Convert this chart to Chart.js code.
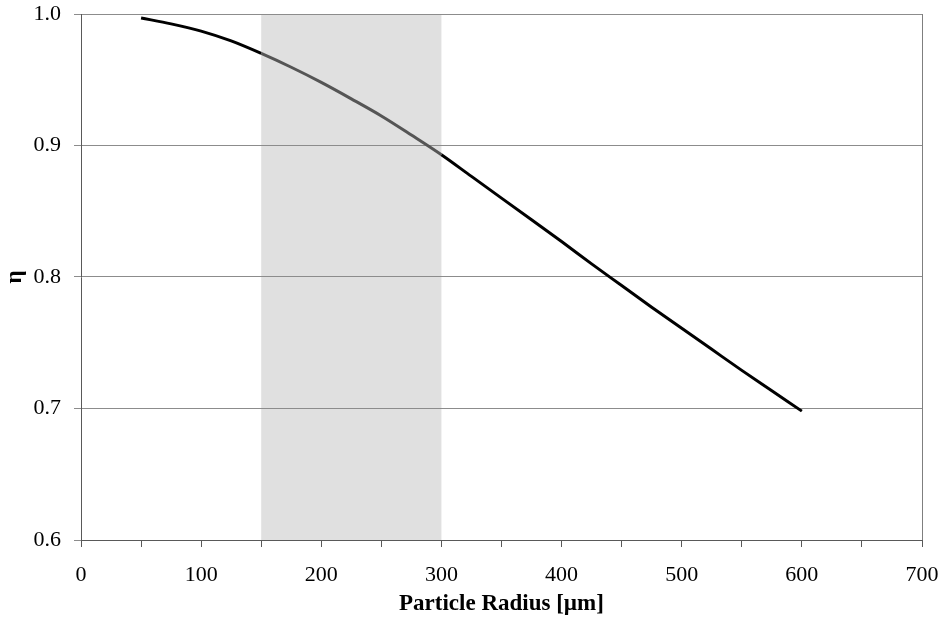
<!DOCTYPE html>
<html>
<head>
<meta charset="utf-8">
<script src="https://cdn.jsdelivr.net/npm/chart.js@4.4.1/dist/chart.umd.min.js"></script>
<style>
  html, body { margin: 0; padding: 0; background: #fff; }
  #wrap { width: 945px; height: 619px; }
</style>
</head>
<body>
<div id="wrap"><canvas id="c" width="945" height="619"></canvas></div>
<script>
// Collection efficiency versus particle radius
const radius = [50, 75, 100, 125, 150, 175, 200, 225, 250, 275, 300, 325, 350,
                375, 400, 425, 450, 475, 500, 525, 550, 575, 600];
const eta = [0.997, 0.9925, 0.987, 0.9795, 0.970, 0.9595, 0.948, 0.9355, 0.9225, 0.908,
             0.893, 0.8765, 0.860, 0.8435, 0.827, 0.810, 0.7935, 0.777, 0.761, 0.745,
             0.729, 0.7135, 0.698];
// Highlighted radius band
const bandRange = [150, 300];

const points = radius.map((r, i) => ({ x: r, y: eta[i] }));

const serif = "'Liberation Serif', 'Times New Roman', serif";

const bandPlugin = {
  id: 'band',
  beforeDraw(chart) {
    const { ctx, chartArea, scales } = chart;
    const x0 = scales.x.getPixelForValue(bandRange[0]);
    const x1 = scales.x.getPixelForValue(bandRange[1]);
    ctx.save();
    ctx.fillStyle = '#e0e0e0';
    ctx.fillRect(x0, chartArea.top, x1 - x0, chartArea.bottom - chartArea.top);
    ctx.restore();
  },
  afterDraw(chart) {
    const { ctx, chartArea } = chart;
    ctx.save();
    ctx.strokeStyle = '#7f7f7f';
    ctx.lineWidth = 1;
    ctx.beginPath();
    ctx.moveTo(Math.round(chartArea.right) + 0.5, chartArea.top);
    ctx.lineTo(Math.round(chartArea.right) + 0.5, chartArea.bottom);
    ctx.stroke();
    ctx.restore();
  }
};

new Chart(document.getElementById('c'), {
  type: 'line',
  data: {
    datasets: [{
      data: points,
      borderColor: '#000',
      borderWidth: 3,
      pointRadius: 0,
      cubicInterpolationMode: 'monotone',
      fill: false,
      segment: {
        borderColor: (c) => (c.p0.parsed.x >= bandRange[0] && c.p1.parsed.x <= bandRange[1]) ? '#555555' : '#000'
      }
    }]
  },
  options: {
    responsive: false,
    animation: false,
    devicePixelRatio: 1,
    layout: { padding: { left: 0, right: 23, top: 14, bottom: 0 } },
    plugins: { legend: { display: false }, tooltip: { enabled: false } },
    scales: {
      x: {
        type: 'linear',
        min: 0,
        max: 700,
        afterFit(s) { s.height = 79; s.paddingLeft = 0; s.paddingRight = 0; },
        afterBuildTicks(s) {
          const t = [];
          for (let v = 0; v <= 700; v += 50) t.push({ value: v });
          s.ticks = t;
        },
        ticks: {
          autoSkip: false,
          maxRotation: 0,
          padding: 15,
          color: '#000',
          font: { family: serif, size: 22 },
          callback: (v) => (v % 100 === 0 ? String(v) : '')
        },
        grid: {
          drawOnChartArea: false,
          drawTicks: true,
          tickLength: 7,
          color: '#595959'
        },
        border: { color: '#595959', width: 1 },
        title: {
          display: true,
          text: 'Particle Radius [µm]',
          color: '#000',
          font: { family: serif, size: 23, weight: 'bold' },
          padding: { top: 0, bottom: 1 }
        }
      },
      y: {
        min: 0.6,
        max: 1.0,
        afterFit(s) { s.width = 81; s.paddingTop = 0; s.paddingBottom = 0; },
        ticks: {
          stepSize: 0.1,
          padding: 13,
          color: '#000',
          font: { family: serif, size: 22 },
          callback: (v) => Number(v).toFixed(1)
        },
        grid: {
          color: '#8c8c8c',
          tickColor: '#8c8c8c',
          tickLength: 7,
          lineWidth: 1
        },
        border: { color: '#595959', width: 1 },
        title: {
          display: true,
          text: 'η',
          color: '#000',
          font: { family: serif, size: 23, weight: 'bold' },
          padding: { top: 1, bottom: 0 }
        }
      }
    }
  },
  plugins: [bandPlugin]
});
</script>
</body>
</html>
